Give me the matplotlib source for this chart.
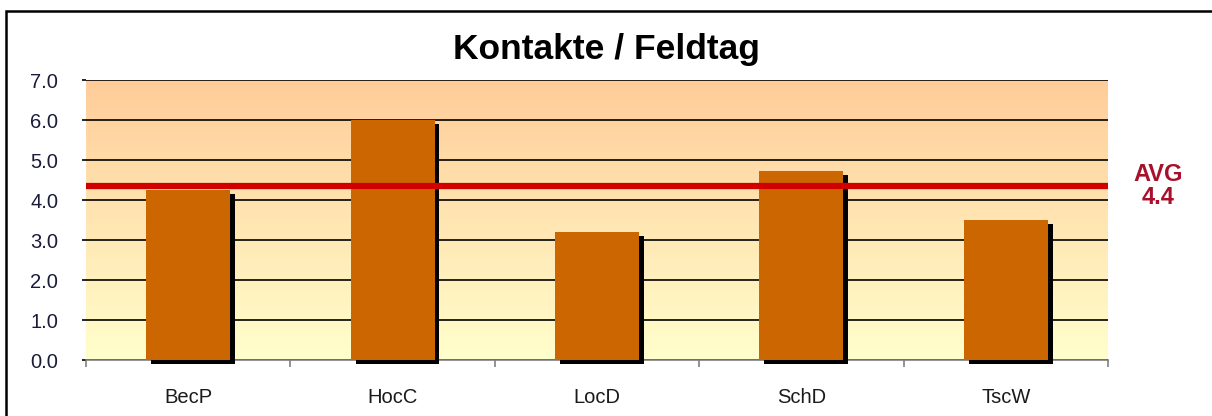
import numpy as np
import matplotlib
matplotlib.use("Agg")
import matplotlib.pyplot as plt
import matplotlib.patheffects as pe
from matplotlib.colors import LinearSegmentedColormap
from matplotlib.patches import Rectangle

categories = ['BecP', 'HocC', 'LocD', 'SchD', 'TscW']
kontakte = [4.25, 6.0, 3.2, 4.72, 3.5]
avg_value = 4.35
avg_label = 'AVG\n4.4'
y_ticks = [0, 1, 2, 3, 4, 5, 6, 7]

plt.rcParams['font.family'] = ['Liberation Sans', 'DejaVu Sans']

fig = plt.figure(figsize=(12.12, 4.16), dpi=100)
ax = fig.add_axes([86 / 1212, 1 - 360 / 416, (1108 - 86) / 1212, 280 / 416])

# gradient plot area
cmap = LinearSegmentedColormap.from_list('bg', ['#FFFFCC', '#FFCC99'])
grad = np.linspace(0, 1, 256).reshape(-1, 1)
ax.imshow(grad, extent=[-0.5, 4.5, 0, 7], origin='lower', cmap=cmap,
          aspect='auto', zorder=0)

ax.set_axisbelow(True)
ax.yaxis.grid(True, color='black', linewidth=1.2, zorder=1)

x = np.arange(len(categories))
bars = ax.bar(x, kontakte, width=0.41, color='#CC6600', zorder=3, clip_on=False)
for b in bars:
    b.set_path_effects([pe.SimplePatchShadow(offset=(3.5, -2.8), shadow_rgbFace='black', alpha=1.0),
                        pe.Normal()])

ax.axhline(avg_value, color='#D10000', linewidth=4.5, zorder=4)

ax.set_xlim(-0.5, 4.5)
ax.set_ylim(0, 7)
ax.set_yticks(y_ticks)
ax.set_yticklabels([f'{v:.1f}' for v in y_ticks])
ax.set_xticks(x)
ax.set_xticklabels(categories)
ax.set_xticks(np.arange(-0.5, 5.0, 1.0), minor=True)

ax.tick_params(axis='y', length=3, width=1.2, color='black', pad=17,
               labelsize=14.5, labelcolor='#1a1a3a')
ax.tick_params(axis='x', which='major', length=0, pad=20,
               labelsize=14.5, labelcolor='#1a1a1a')
ax.tick_params(axis='x', which='minor', length=5, width=1.2, color='#808080')

for side in ['left', 'right', 'top']:
    ax.spines[side].set_visible(False)
ax.spines['bottom'].set_color('#808080')
ax.spines['bottom'].set_linewidth(1.2)

fig.text(0.5, 1 - 49 / 416, 'Kontakte / Feldtag', ha='center', va='center',
         fontsize=25.5, fontweight='bold', color='black')
fig.text(1158 / 1212, 1 - 186 / 416, avg_label, ha='center', va='center',
         fontsize=17, fontweight='bold', color='#A8102C', linespacing=1.05)

# chart border
fig.patches.append(Rectangle((6 / 1212, -0.1), 1.2, 1 - 11 / 416 + 0.1,
                             transform=fig.transFigure, fill=False,
                             edgecolor='black', linewidth=1.8))

fig.savefig('out.png', dpi=100)
